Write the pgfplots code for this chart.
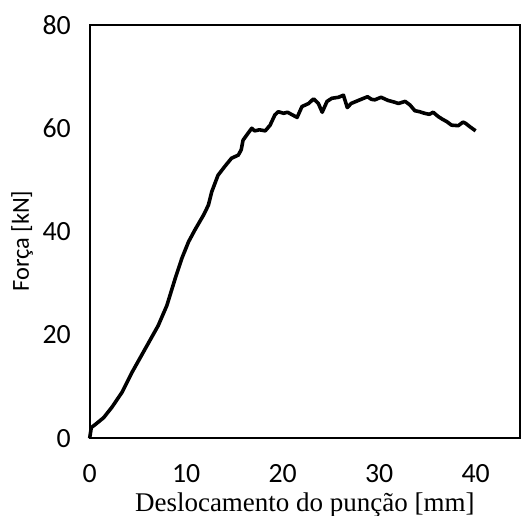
\documentclass[border=0pt]{standalone}
\usepackage{fontspec}
\setmainfont{Carlito}
\newfontfamily\timesfont{Liberation Serif}
\usepackage{pgfplots}
\pgfplotsset{compat=1.18}
\begin{document}
\begin{tikzpicture}
\begin{axis}[
  scale only axis,
  width=216bp, height=207.5bp,
  xmin=0, xmax=44.6, ymin=0, ymax=80,
  xtick={0,10,20,30,40}, ytick={0,20,40,60,80},
  major tick length=0pt,
  axis line style={line width=0.9bp, black},
  /pgf/number format/assume math mode=true,
  tick label style={font=\fontsize{14}{16}\selectfont},
  yticklabel style={anchor=east, xshift=-6bp},
  xticklabel style={anchor=north, yshift=-9.5bp},
  xlabel={\timesfont\fontsize{13.6}{16}\selectfont Deslocamento do punção [mm]},
  ylabel={Força [kN]},
  label style={font=\fontsize{12.3}{14}\selectfont},
  xlabel style={at={(axis description cs:0.5,-0.178)}, anchor=base},
  ylabel style={at={(axis description cs:-0.157,0.477)}, anchor=center},
  clip=false,
]
\addplot[black, line width=1.8bp, line join=round] coordinates {
(0,0) (0.17,2.1) (0.6,2.7) (1.45,4.0) (2.3,6.0) (3.35,8.9) (4.4,12.8)
(5.75,17.3) (7.1,21.8) (8.0,25.7) (8.86,30.9) (9.55,34.8) (10.24,38.0)
(10.9,40.3) (11.8,43.2) (12.3,45.1) (12.65,47.7) (13.3,50.9) (14.0,52.6)
(14.7,54.2) (15.4,54.8) (15.7,55.8) (15.9,57.7) (16.4,59.0) (16.8,60.0)
(17.1,59.5) (17.6,59.7) (18.2,59.5) (18.7,60.6) (19.2,62.6) (19.55,63.2)
(20.1,62.9) (20.5,63.1) (21.0,62.6) (21.5,62.1) (22.0,64.2) (22.7,64.8)
(23.2,65.7) (23.7,64.8) (24.1,63.1) (24.6,65.2) (25.1,65.8) (25.8,66.0)
(26.3,66.4) (26.7,64.0) (27.1,64.8) (28.0,65.5) (28.8,66.1) (29.2,65.6)
(29.55,65.5) (30.2,66.0) (30.9,65.4) (31.5,65.1) (32.0,64.8) (32.7,65.2)
(33.2,64.5) (33.7,63.4) (34.2,63.2) (34.7,62.9) (35.2,62.7) (35.6,63.1)
(36.1,62.3) (36.6,61.7) (37.0,61.3) (37.5,60.6) (38.2,60.5) (38.7,61.2)
(39.0,60.9) (39.4,60.3) (40.0,59.5)
};
\end{axis}
\pgfresetboundingbox
\path (current axis.south west) ++(-45bp,-38.5bp) rectangle (current axis.north east) ++(2bp,12.5bp);
\end{tikzpicture}
\end{document}
